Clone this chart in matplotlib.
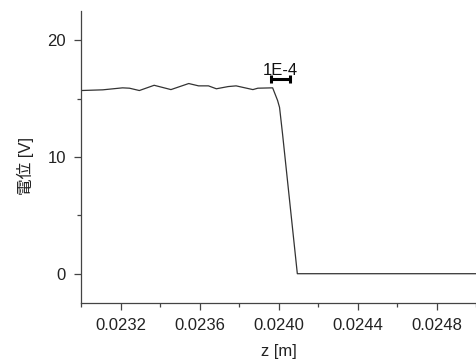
import matplotlib.pyplot as plt
from matplotlib.ticker import MultipleLocator

plt.rcParams['font.family'] = ['Liberation Sans', 'Noto Sans CJK JP', 'DejaVu Sans']

# potential along z
z = [0.02300, 0.02311, 0.02321, 0.023245, 0.023295, 0.02337, 0.023455, 0.023545,
     0.023595, 0.023645, 0.023685, 0.023745, 0.023785, 0.02387, 0.023895, 0.02397,
     0.023995, 0.024005, 0.02402, 0.024045, 0.024095, 0.02500]
V = [15.7, 15.76, 15.93, 15.9, 15.7, 16.15, 15.78, 16.3,
     16.1, 16.1, 15.85, 16.04, 16.1, 15.78, 15.9, 15.93,
     14.85, 14.25, 12.0, 8.0, 0.0, 0.0]

bar_start = 0.02396
bar_len = 1e-4
bar_y = 16.65
bar_text = '1E-4'

fig = plt.figure(figsize=(4.77, 3.61), dpi=100)
ax = fig.add_axes([0.170, 0.161, 0.828, 0.808])

ax.plot(z, V, color='#333333', linewidth=0.9)

# scale bar
ax.errorbar([bar_start + bar_len / 2], [bar_y], xerr=[bar_len / 2], color='black',
            linewidth=2.2, capsize=3, capthick=2.2, fmt='none')
ax.text(bar_start + bar_len / 2, bar_y + 0.15, bar_text, ha='center', va='bottom',
        fontsize=12, color='#111111')

ax.set_xlim(0.0230, 0.0250)
ax.set_ylim(-2.5, 22.5)
ax.xaxis.set_major_locator(MultipleLocator(0.0004))
ax.xaxis.set_minor_locator(MultipleLocator(0.0002))
ax.yaxis.set_major_locator(MultipleLocator(10))
ax.yaxis.set_minor_locator(MultipleLocator(5))
ax.xaxis.set_major_formatter(plt.FuncFormatter(lambda v, p: '%.4f' % v))

for s in ['top', 'right']:
    ax.spines[s].set_visible(False)
for s in ['left', 'bottom']:
    ax.spines[s].set_color('#444444')
    ax.spines[s].set_linewidth(0.9)

ax.tick_params(which='major', length=5, width=0.9, color='#444444',
               labelsize=12, labelcolor='#222222', pad=6)
ax.tick_params(which='minor', length=3, width=0.9, color='#444444')

ax.set_xlabel('z [m]', fontsize=12, color='#222222', labelpad=8)
ax.set_ylabel('電位 [V]', fontsize=12, color='#222222')
ax.yaxis.set_label_coords(-0.12, 0.47)

fig.savefig('out.png', dpi=100)
